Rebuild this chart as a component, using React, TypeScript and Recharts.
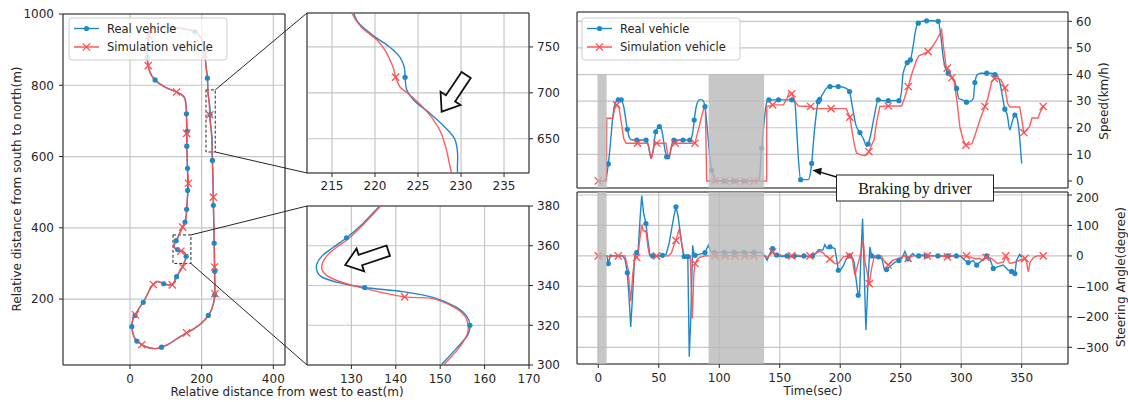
import React from "react";
import { CartesianGrid, Line, LineChart, ReferenceArea, XAxis, YAxis } from "recharts";

const BLUE = "#1f88c8";
const RED = "#ff4d4d";
const GRID = "#c6c6c6";
const INK = "#262626";
const FONT = '"DejaVu Sans", sans-serif';

// trajectory [east m, north m, marker]
const realTrack: number[][] = [
  [52, 935, 0], [55, 952, 0], [70, 960, 0], [100, 962, 0], [140, 960, 0], [181, 950, 1],
  [197, 935, 0], [205, 910, 0], [209, 885, 0], [212, 855, 0], [216, 820, 1], [217.5, 787, 0],
  [218.2, 775, 0], [220, 761, 0], [221.7, 750, 0], [222.9, 739, 0], [223.4, 728, 0], [223.5, 717, 1],
  [223.7, 703, 0], [224.5, 692, 0], [226.4, 677.5, 0], [228.3, 661, 0], [229.3, 649, 0], [229.6, 634, 0],
  [229.6, 613, 0], [230, 589, 1], [231.5, 540, 0], [232.6, 463, 1], [234, 410, 0], [235, 357, 1],
  [236, 300, 0], [236.3, 278, 1], [237, 240, 0], [236.5, 212, 1], [234, 192, 0], [228, 172, 0],
  [218.6, 154, 1], [200, 133, 0], [180, 118, 0], [158, 105, 0], [130, 88, 0], [105, 72, 0],
  [88, 65, 1], [70, 61, 0], [50, 64, 0], [33, 72, 0], [19, 82, 1], [10, 98, 0], [5, 123, 1],
  [8, 142, 0], [14, 154, 1], [20, 165, 0], [28, 178, 0], [37, 191, 1], [48, 212, 0], [58, 232, 0],
  [66, 243, 0], [76, 249, 0], [86, 247, 0], [94, 243, 1], [106, 240, 0], [117, 241, 0], [124, 250, 0],
  [130, 263, 1], [140, 279, 0], [146, 290, 0], [150.2, 300, 0], [153.5, 308, 0], [156.2, 315, 0],
  [156.7, 320, 1], [156, 324.5, 0], [153.7, 329, 0], [148.4, 334, 0], [142, 336.8, 0], [133, 339, 1],
  [127.4, 341.3, 0], [123.2, 344.5, 0], [122.1, 349.3, 0], [123.2, 354.4, 0], [125.8, 359, 0],
  [128.9, 364, 1], [132.5, 371, 0], [136.4, 380, 0], [142, 392, 0], [147.5, 404, 0], [153.5, 416, 1],
  [157, 435, 0], [158, 452, 1], [160, 480, 0], [161, 505, 1], [160.5, 567, 1], [158.5, 629, 1],
  [159.5, 671, 1], [157.5, 720, 1], [156.5, 740, 0], [153.5, 762, 0], [145, 773, 0], [130, 781, 0],
  [102, 793, 0], [80, 806, 0], [70, 815, 1], [60, 828, 0], [53, 845, 0], [50, 860, 0], [48, 879, 1],
  [49, 910, 0], [52, 935, 0],
];

const simTrack: number[][] = [
  [52, 940, 1], [56, 954, 0], [70, 960, 0], [100, 962, 0], [140, 960, 0], [181, 950, 0],
  [197, 935, 0], [205, 910, 0], [209, 885, 1], [212, 855, 0], [215.8, 820, 0], [217.3, 787, 0],
  [218.4, 771.7, 0], [220.3, 757, 0], [221.3, 744.4, 0], [222.1, 728, 0], [222.4, 717.2, 1],
  [222.9, 706.4, 0], [223.9, 699, 0], [225.5, 685, 0], [226.8, 670.6, 0], [227.7, 656, 0],
  [228.3, 638, 0], [228.9, 613, 0], [229.8, 589, 0], [231.5, 540, 0], [232.6, 486, 1], [233.5, 440, 0],
  [235, 357, 0], [235.8, 290, 1], [236.5, 250, 0], [237, 215, 1], [234, 192, 0], [228, 172, 0],
  [218.6, 154, 0], [200, 133, 0], [180, 118, 0], [158, 105, 1], [130, 88, 0], [105, 72, 0],
  [88, 65, 0], [70, 61, 0], [50, 64, 0], [33, 72, 1], [19, 82, 0], [10, 98, 0], [5, 123, 0],
  [8, 142, 0], [15, 156, 1], [20, 165, 0], [28, 178, 0], [37, 191, 0], [48, 212, 0], [58, 232, 0],
  [65, 241, 1], [76, 249, 0], [86, 247, 0], [94, 243, 0], [106, 240, 0], [118, 240, 1], [124, 250, 0],
  [130, 263, 0], [140, 279, 0], [147, 290, 1], [150.8, 300, 0], [154, 308, 0], [156, 315, 0],
  [156.3, 320, 0], [155.6, 324.5, 0], [153.2, 329, 0], [148, 333.5, 0], [142, 334.3, 1],
  [133, 338.5, 0], [128, 341.5, 0], [124.5, 345, 0], [123.3, 349, 0], [124.3, 354.4, 0],
  [126.5, 359, 0], [129.3, 363.5, 0], [132.8, 371, 0], [136.6, 380, 0], [142, 392, 0], [147, 402, 1],
  [153.5, 416, 0], [157, 435, 0], [158, 452, 0], [160, 480, 0], [163, 525, 1], [160.5, 567, 0],
  [158.5, 629, 0], [158, 665, 1], [157.5, 720, 0], [156.5, 740, 0], [153.5, 762, 0], [145, 773, 0],
  [130, 781, 1], [102, 793, 0], [80, 806, 0], [70, 815, 0], [60, 828, 0], [53, 845, 0], [51, 855, 1],
  [48, 879, 0], [49, 910, 0], [52, 940, 0],
];

// speed [sec, km/h, marker]
const realSpeed: number[][] = [
  [0, 0, 0], [3, 0, 0], [6, 0.5, 0], [8.3, 6.4, 1], [10, 14, 0], [12, 24, 0], [14, 29.2, 0],
  [16.5, 30.5, 1], [19, 30.5, 1], [21, 28, 0], [24, 19.4, 1], [26, 16, 0], [28, 15.4, 0],
  [31.8, 15.4, 1], [36, 15.4, 0], [39.5, 15.4, 1], [41.5, 13, 0], [43.6, 8.5, 0], [45.5, 12, 0],
  [47.5, 18.5, 1], [50.5, 20.4, 1], [52.5, 19, 0], [55, 12, 0], [56.5, 9.1, 1], [58.4, 8.3, 0],
  [60.5, 13, 0], [62.5, 15.4, 1], [66, 15.4, 0], [70, 15.4, 1], [75.7, 15.4, 1], [78, 18, 0],
  [79.3, 22.9, 1], [81, 28, 0], [83.5, 30.5, 0], [86, 30.5, 0], [88.2, 28, 1], [90, 20, 0],
  [92, 10, 0], [93.7, 4.1, 1], [96, 1.5, 0], [98, 0, 0], [104, 0, 1], [112, 0, 1], [120.5, 0, 1],
  [130, 0, 0], [133, 0.5, 0], [135, 12.3, 1], [137.5, 24, 0], [139, 29.2, 0], [141, 30.5, 1],
  [146, 30.5, 0], [149, 30.5, 1], [155, 30.5, 0], [160, 30.5, 1], [162.5, 29.5, 0], [164, 19.4, 0],
  [165.5, 8, 0], [167.3, 0.5, 1], [170, 0.5, 0], [173.6, 0.5, 0], [176.4, 6.6, 1], [178.5, 18, 0],
  [181.8, 29.8, 1], [183, 30.7, 1], [186, 33, 0], [188, 34.5, 0], [191.5, 35.5, 1], [195, 35.5, 0],
  [198.4, 35.5, 1], [202, 35.3, 0], [205.3, 34.7, 0], [207.7, 33.6, 1], [210, 28, 0], [213, 21, 0],
  [216.3, 18.2, 1], [219, 16, 0], [222, 13, 0], [223.1, 13.9, 1], [225, 17, 0], [228, 24, 0],
  [231.4, 30.5, 1], [235, 30.2, 0], [239.7, 30.2, 1], [244, 30.2, 0], [248.5, 30.2, 1], [250.5, 33, 0],
  [252, 40.5, 0], [255.4, 44.5, 1], [258, 45.5, 1], [260, 50, 0], [262.5, 57, 0], [264.5, 59.3, 1],
  [267, 60, 0], [271.4, 60.2, 1], [276, 60.2, 0], [281, 60, 1], [283, 55, 0], [285, 47, 0],
  [286.5, 43, 0], [289.3, 40.5, 1], [292.5, 39, 0], [294.5, 37.5, 0], [296.2, 34.8, 1], [298, 31, 0],
  [301, 30.5, 0], [304.4, 29.6, 1], [308, 30, 0], [310, 31, 0], [311.3, 37, 1], [313.5, 40, 0],
  [316, 40.5, 0], [321.1, 40.5, 1], [325, 40.5, 0], [327.9, 40, 1], [330, 39.5, 0], [332, 37, 0],
  [334, 32, 0], [336.1, 27, 1], [338, 25, 0], [340.2, 19.2, 0], [342, 22, 0], [344.4, 24.8, 1],
  [346, 24, 0], [347.5, 20, 0], [350, 6.6, 0],
];

const simSpeed: number[][] = [
  [0, 0, 1], [6.8, 0, 0], [7, 23.6, 0], [11.8, 23.6, 0], [13.5, 27, 0], [15.2, 28.6, 1], [17, 28, 0],
  [19, 22, 0], [21, 16, 0], [23, 14.2, 0], [32.5, 14.2, 1], [41, 14.2, 0], [42.5, 11, 0],
  [43.8, 8.3, 0], [45.3, 11, 0], [46.5, 14.2, 0], [48.3, 14.2, 1], [56, 14.2, 0], [57, 11, 0],
  [58.4, 8.3, 0], [60, 12, 0], [61, 14.2, 0], [63.6, 14.2, 1], [79.9, 14.2, 1], [82, 18, 0],
  [84.8, 23, 0], [87, 27, 0], [88.5, 28, 0], [89.6, 0, 0], [96.5, 0, 1], [104.8, 0, 1], [113, 0, 1],
  [121.3, 0, 1], [128.7, 0, 1], [139.2, 0, 0], [139.3, 28, 0], [144.1, 28.6, 1], [153, 28.6, 0],
  [156, 31, 0], [158, 33.5, 0], [160, 32.8, 1], [163, 29.5, 0], [165.5, 28.2, 0], [175.5, 28, 1],
  [178, 27.2, 0], [192.4, 27.2, 1], [205, 27.2, 0], [206.5, 25.5, 0], [208, 24, 1], [210, 18, 0],
  [212, 13, 0], [213.5, 10.5, 0], [217, 9.8, 0], [220.5, 9.5, 0], [222, 10, 0], [223.7, 11, 1],
  [226, 13.5, 0], [228, 15.5, 0], [230, 22, 0], [232.8, 28, 0], [239.7, 28.2, 1], [250.7, 28.2, 0],
  [253, 31, 0], [256.2, 35.5, 1], [259, 40, 0], [263.1, 45.5, 0], [265, 47, 0], [272.7, 48.6, 1],
  [277, 51, 0], [281, 54, 0], [283.8, 56.8, 0], [285.5, 50, 0], [287.5, 43, 0], [288.5, 42.4, 1],
  [290.5, 39.5, 0], [292.3, 38.8, 1], [294.3, 37, 0], [296.5, 30, 0], [299, 20, 0], [301.7, 15.4, 0],
  [303.9, 13.5, 1], [309, 14, 0], [312, 18, 0], [315.5, 23, 0], [319.6, 28, 1], [322, 31, 0],
  [325.2, 37.3, 0], [327.5, 38.5, 1], [330.5, 38.5, 0], [333, 38, 0], [336.1, 35, 1], [338.5, 29, 0],
  [340.2, 27.8, 0], [348.4, 27.8, 0], [350.5, 22, 0], [351.8, 18.2, 1], [354, 19, 0], [356.7, 20.6, 0],
  [358.5, 23.7, 0], [363.5, 23.7, 0], [365.5, 26, 0], [367.8, 28, 1],
];

// steering [sec, degree, marker]
const realSteer: number[][] = [
  [0, 0, 0], [5, 2, 0], [7, 0, 0], [8.3, -25, 1], [10, 3, 0], [12, 0, 0], [20, 0, 0], [22, -10, 0],
  [24, -55, 1], [25.5, -140, 0], [26.8, -233, 0], [28.5, -120, 0], [30, -5, 0], [31.7, 11, 1],
  [33, 20, 0], [34.5, 120, 0], [35.9, 197, 0], [37.5, 140, 0], [39.4, 106, 1], [41, 50, 0],
  [42.7, 3, 0], [45, 0, 1], [50, 0, 0], [53, 2, 1], [56, 5, 0], [58.5, 40, 0], [60.7, 90, 0],
  [62.5, 130, 0], [64.2, 161, 1], [66, 130, 0], [68, 68, 0], [70, 10, 0], [71, -2, 1], [74, -2, 1],
  [75.2, -331, 0], [76.5, -200, 0], [78, 35, 0], [79, 10, 0], [80, 2, 1], [83, 5, 0], [86, 8, 0],
  [88.2, 11, 1], [91, 35, 0], [93, 15, 0], [96, 12, 1], [104, 12, 1], [112, 12, 1], [120.5, 12, 1],
  [128.7, 12, 1], [135, 12, 0], [137.5, 0, 0], [139.6, -14, 0], [141.5, 5, 0], [144.1, 24, 1],
  [146, 0, 0], [147.6, 3, 1], [152, -3, 0], [156, 0, 1], [160, -3, 0], [162, 0, 1], [167, -2, 0],
  [170, 0, 1], [175, -3, 0], [177, 0, 1], [180, 8, 0], [182, 20, 0], [185.6, 19, 0], [187.3, 37, 0],
  [189, 25, 0], [191.5, 30, 1], [195.6, 24, 0], [197, -10, 0], [198.4, -47, 1], [200.5, -45, 0],
  [202.5, -33, 0], [205, -10, 0], [207.7, 0, 1], [210, -5, 0], [211.6, -22, 0], [213.5, -90, 0],
  [214.9, -129, 1], [216, -120, 0], [217.3, 20, 0], [218.5, 122, 0], [219.8, -50, 0], [221.2, -244, 0],
  [222.8, -100, 0], [224.5, 30, 0], [226, 0, 1], [229, -5, 0], [231.5, -3, 1], [234.5, -10, 0],
  [236.5, -45, 0], [238.3, -45, 1], [242.4, -30, 0], [245.5, -20, 0], [248.5, -15, 1], [251, -8, 0],
  [253.5, 15, 0], [256, -10, 1], [258, 0, 0], [260, 8, 0], [262, 0, 0], [264.8, 0, 1], [268, 3, 0],
  [271, 0, 1], [276, 0, 0], [280.8, 0, 1], [285, 0, 0], [289, 0, 1], [293, 0, 0], [296, 0, 1],
  [300, -2, 0], [301.7, -10, 0], [305.8, -22, 1], [310, -15, 0], [312.8, -30, 1], [315.5, -20, 0],
  [318.3, -10, 0], [321, 0, 1], [323.8, -10, 0], [326.5, -41, 1], [330.6, -35, 0], [334.7, -30, 0],
  [338.9, -47, 0], [341.6, -51, 1], [344.4, -58, 1], [345.7, -15, 0], [348.4, 5, 0], [350, -5, 0],
];

const simSteer: number[][] = [
  [0, 0, 1], [7, 0, 0], [10, -3, 0], [12, 0, 0], [16.5, 0, 1], [22, 0, 0], [24.5, -40, 0],
  [26.8, -149, 0], [28.5, -60, 0], [30.5, 0, 0], [31.7, -5, 1], [33, 10, 0], [34.5, 60, 0],
  [35.9, 103, 0], [37, 85, 0], [38.5, 80, 0], [39.4, 83, 0], [41, 30, 0], [42.5, 0, 0], [48.2, 0, 1],
  [58, 0, 0], [60.5, 10, 0], [62.5, 35, 0], [64.2, 51, 1], [67, 90, 0], [69, 40, 0], [71, 0, 0],
  [76, 0, 0], [77.7, -205, 0], [79, -60, 0], [80, -25, 1], [82, -10, 0], [84, -5, 0], [88, 0, 0],
  [96.5, 0, 1], [104.8, 0, 1], [113, 0, 1], [121.3, 0, 1], [128.7, 0, 1], [138, 0, 0], [140, -5, 0],
  [142, 5, 0], [144.1, 13, 1], [147, -2, 0], [150, 3, 0], [155, 0, 0], [160, 0, 1], [165, 2, 0],
  [170, -2, 0], [175, 0, 1], [180, 10, 0], [183, 15, 0], [186, 10, 0], [188, 0, 0], [191.5, -10, 1],
  [195.6, -25, 0], [198.4, -25, 0], [202.5, -3, 0], [207.7, 0, 1], [210, -10, 0], [212.1, -63, 0],
  [214.5, -30, 0], [217, 10, 0], [219, 51, 0], [220.5, -20, 0], [222, -50, 0], [224, -91, 1],
  [226, -40, 0], [228.3, 0, 0], [234, 0, 0], [237, -20, 0], [239.7, -30, 1], [243, -15, 0],
  [247, -10, 0], [250, -5, 0], [253, 0, 0], [256.2, -8, 1], [260, 0, 0], [264, 0, 0], [272, 0, 1],
  [280, 0, 0], [288.6, -3, 1], [296, 0, 0], [304.5, 0, 1], [312, -10, 0], [315, -8, 0], [318, -15, 0],
  [320.5, -5, 1], [325, -8, 0], [330, -25, 0], [335, -20, 0], [336.9, 0, 1], [340, -25, 0],
  [345, -20, 0], [348, -15, 0], [352.7, -8, 1], [354, -20, 0], [355.4, -52, 0], [357, -20, 0],
  [360, -5, 0], [363, 0, 0], [367.8, 0, 1],
];

const trackXTicks = [0, 200, 400];
const trackYTicks = [200, 400, 600, 800, 1000];
const zoomAXTicks = [215, 220, 225, 230, 235];
const zoomAYTicks = [650, 700, 750];
const zoomBXTicks = [120, 130, 140, 150, 160, 170];
const zoomBYTicks = [300, 320, 340, 360, 380];
const timeTicks = [0, 50, 100, 150, 200, 250, 300, 350];
const speedTicks = [0, 10, 20, 30, 40, 50, 60];
const steerTicks = [-300, -200, -100, 0, 100, 200];
const grayStops = [[-0.7, 6.9], [91.2, 137.1]];
const grayTopSpeed = 40;

// plot boxes (page px) and domains
const P1 = { left: 63, top: 14, right: 285, bottom: 365 };
const P2 = { left: 307, top: 13, right: 529, bottom: 173 };
const P3 = { left: 307, top: 206, right: 529, bottom: 365 };
const P4 = { left: 577, top: 12, right: 1068, bottom: 188 };
const P5 = { left: 577, top: 192, right: 1068, bottom: 364 };
const D1x = [-187, 432.6], D1y = [15, 1000];
const D2x = [212.1, 237.9], D2y = [612.7, 787];
const D3x = [120, 170], D3y = [300, 380];
const DTx = [-17.6, 388.3], D4y = [-2.63, 63.5], D5y = [-354.8, 209.8];

const toXY = (a: number[][]) => a.map(([x, y, m]) => ({ x, y, m }));

// uniform Catmull-Rom, so zoomed track panels stay smooth
const catmull = (context: any) => {
  let pts: number[][] = [];
  return {
    areaStart() {},
    areaEnd() {},
    lineStart() { pts = []; },
    lineEnd() {
      if (!pts.length) return;
      context.moveTo(pts[0][0], pts[0][1]);
      for (let i = 0; i < pts.length - 1; i++) {
        const p0 = pts[i - 1] || pts[i], p1 = pts[i], p2 = pts[i + 1], p3 = pts[i + 2] || p2;
        context.bezierCurveTo(
          p1[0] + (p2[0] - p0[0]) / 6, p1[1] + (p2[1] - p0[1]) / 6,
          p2[0] - (p3[0] - p1[0]) / 6, p2[1] - (p3[1] - p1[1]) / 6,
          p2[0], p2[1]
        );
      }
    },
    point(x: number, y: number) { pts.push([+x, +y]); },
  };
};

const blueDot = (p: any) =>
  p.payload && p.payload.m ? (
    <circle key={`b${p.index}`} cx={p.cx} cy={p.cy} r={2.6} fill={BLUE} />
  ) : (
    <g key={`b${p.index}`} />
  );

const redCross = (p: any) =>
  p.payload && p.payload.m ? (
    <path
      key={`r${p.index}`}
      d={`M${p.cx - 3.6},${p.cy - 3.6}L${p.cx + 3.6},${p.cy + 3.6}M${p.cx - 3.6},${p.cy + 3.6}L${p.cx + 3.6},${p.cy - 3.6}`}
      stroke={RED}
      strokeWidth={1.3}
      fill="none"
    />
  ) : (
    <g key={`r${p.index}`} />
  );

const fmt = (v: number) => (v < 0 ? `\u2212${-v}` : `${v}`);
const tickStyle = { fontSize: 12, fill: INK, fontFamily: FONT };

const mapper = (box: any, dx: number[], dy: number[]) => (x: number, y: number) => [
  box.left + ((x - dx[0]) / (dx[1] - dx[0])) * (box.right - box.left),
  box.bottom - ((y - dy[0]) / (dy[1] - dy[0])) * (box.bottom - box.top),
];

function blockArrow(tail: number[], tip: number[]) {
  const dx = tip[0] - tail[0], dy = tip[1] - tail[1];
  const L = Math.hypot(dx, dy);
  const ux = dx / L, uy = dy / L, nx = -uy, ny = ux;
  const head = 16, hw = 12, sw = 5.5;
  const nk = [tip[0] - ux * head, tip[1] - uy * head];
  const pts = [
    [tail[0] + nx * sw, tail[1] + ny * sw],
    [nk[0] + nx * sw, nk[1] + ny * sw],
    [nk[0] + nx * hw, nk[1] + ny * hw],
    tip,
    [nk[0] - nx * hw, nk[1] - ny * hw],
    [nk[0] - nx * sw, nk[1] - ny * sw],
    [tail[0] - nx * sw, tail[1] - ny * sw],
  ];
  return pts.map((p) => p.join(",")).join(" ");
}

function LegendBox({ x, y }: { x: number; y: number }) {
  return (
    <g fontFamily={FONT} fontSize={11.5} fill={INK}>
      <rect x={x} y={y} width={158} height={42} rx={3} fill="#fff" fillOpacity={0.8} stroke="#cccccc" />
      <line x1={x + 5} x2={x + 30} y1={y + 10.5} y2={y + 10.5} stroke={BLUE} strokeWidth={1.4} />
      <circle cx={x + 17.5} cy={y + 10.5} r={2.6} fill={BLUE} />
      <text x={x + 38} y={y + 14.5}>Real vehicle</text>
      <line x1={x + 5} x2={x + 30} y1={y + 29} y2={y + 29} stroke={RED} strokeWidth={1.4} />
      <path d={`M${x + 13.9},${y + 25.4}l7.2,7.2M${x + 13.9},${y + 32.6}l7.2,-7.2`} stroke={RED} strokeWidth={1.3} />
      <text x={x + 38} y={y + 33}>Simulation vehicle</text>
    </g>
  );
}

function TrackLines() {
  return [
    <Line key="r" data={toXY(realTrack)} dataKey="y" type={catmull as any} stroke={BLUE} strokeWidth={1.4} dot={blueDot} activeDot={false} isAnimationActive={false} />,
    <Line key="s" data={toXY(simTrack)} dataKey="y" type={catmull as any} stroke={RED} strokeWidth={1.4} strokeOpacity={0.9} dot={redCross} activeDot={false} isAnimationActive={false} />,
  ];
}

export default function App() {
  const m1 = mapper(P1, D1x, D1y);
  const m2 = mapper(P2, D2x, D2y);
  const m3 = mapper(P3, D3x, D3y);
  const m4 = mapper(P4, DTx, D4y);
  const m5 = mapper(P5, DTx, D5y);
  const a1 = m1(D2x[1], D2y[1]), b1 = m1(D2x[1], D2y[0]);
  const a2 = m1(D3x[1], D3y[1]), b2 = m1(D3x[1], D3y[0]);
  const brakeTip = m4(177, 4);
  const trackLines = TrackLines();

  return (
    <div style={{ position: "absolute", left: 0, top: 0, width: 1128, height: 402, background: "#fff", fontFamily: FONT }}>
      <div style={{ position: "absolute", left: 0, top: 0 }}>
        <LineChart width={300} height={402} margin={{ top: 14, right: 15, bottom: 0, left: 0 }}>
          <CartesianGrid stroke={GRID} strokeWidth={1.2} />
          <XAxis type="number" dataKey="x" domain={D1x} ticks={trackXTicks} allowDataOverflow height={37} axisLine={false} tickSize={4} tickMargin={5} tickLine={{ stroke: INK }} tick={tickStyle} />
          <YAxis type="number" domain={D1y} ticks={trackYTicks} allowDataOverflow width={63} axisLine={false} tickSize={4} tickMargin={5} tickLine={{ stroke: INK }} tick={tickStyle} />
          {trackLines}
          <ReferenceArea x1={D2x[0]} x2={D2x[1]} y1={D2y[0]} y2={D2y[1]} fill="none" stroke={INK} strokeDasharray="3 2" />
          <ReferenceArea x1={D3x[0]} x2={D3x[1]} y1={D3y[0]} y2={D3y[1]} fill="none" stroke={INK} strokeDasharray="3 2" />
          <ReferenceArea x1={D1x[0]} x2={D1x[1]} y1={D1y[0]} y2={D1y[1]} fill="none" stroke={INK} />
        </LineChart>
      </div>

      <div style={{ position: "absolute", left: 300, top: 0 }}>
        <LineChart width={260} height={195} margin={{ top: 13, right: 0, bottom: 0, left: 7 }}>
          <CartesianGrid stroke={GRID} strokeWidth={1.2} />
          <XAxis type="number" dataKey="x" domain={D2x} ticks={zoomAXTicks} allowDataOverflow height={22} axisLine={false} tickSize={4} tickMargin={4} tickLine={{ stroke: INK }} tick={tickStyle} />
          <YAxis type="number" orientation="right" domain={D2y} ticks={zoomAYTicks} allowDataOverflow width={31} axisLine={false} tickSize={4} tickMargin={4} tickLine={{ stroke: INK }} tick={tickStyle} />
          {trackLines}
          <ReferenceArea x1={D2x[0]} x2={D2x[1]} y1={D2y[0]} y2={D2y[1]} fill="none" stroke={INK} />
        </LineChart>
      </div>

      <div style={{ position: "absolute", left: 300, top: 195 }}>
        <LineChart width={260} height={207} margin={{ top: 11, right: 0, bottom: 0, left: 7 }}>
          <CartesianGrid stroke={GRID} strokeWidth={1.2} />
          <XAxis type="number" dataKey="x" domain={D3x} ticks={zoomBXTicks} allowDataOverflow height={37} axisLine={false} tickSize={4} tickMargin={5} tickLine={{ stroke: INK }} tick={tickStyle} />
          <YAxis type="number" orientation="right" domain={D3y} ticks={zoomBYTicks} allowDataOverflow width={31} axisLine={false} tickSize={4} tickMargin={4} tickLine={{ stroke: INK }} tick={tickStyle} />
          {trackLines}
          <ReferenceArea x1={D3x[0]} x2={D3x[1]} y1={D3y[0]} y2={D3y[1]} fill="none" stroke={INK} />
        </LineChart>
      </div>

      <div style={{ position: "absolute", left: 570, top: 0 }}>
        <LineChart width={558} height={190} margin={{ top: 12, right: 0, bottom: 2, left: 7 }}>
          <CartesianGrid stroke={GRID} strokeWidth={1.2} />
          <XAxis type="number" dataKey="x" domain={DTx} ticks={timeTicks} allowDataOverflow height={0} axisLine={false} tickLine={false} tick={false} />
          <YAxis type="number" orientation="right" domain={D4y} ticks={speedTicks} allowDataOverflow width={60} axisLine={false} tickSize={4} tickMargin={4} tickLine={{ stroke: INK }} tick={tickStyle} />
          <Line data={toXY(realSpeed)} dataKey="y" type="monotone" stroke={BLUE} strokeWidth={1.4} dot={blueDot} activeDot={false} isAnimationActive={false} />
          <Line data={toXY(simSpeed)} dataKey="y" type="linear" stroke={RED} strokeWidth={1.4} strokeOpacity={0.9} dot={redCross} activeDot={false} isAnimationActive={false} />
          <ReferenceArea x1={DTx[0]} x2={DTx[1]} y1={D4y[0]} y2={D4y[1]} fill="none" stroke={INK} />
        </LineChart>
      </div>

      <div style={{ position: "absolute", left: 570, top: 190 }}>
        <LineChart width={558} height={212} margin={{ top: 2, right: 0, bottom: 0, left: 7 }}>
          <CartesianGrid stroke={GRID} strokeWidth={1.2} />
          <XAxis type="number" dataKey="x" domain={DTx} ticks={timeTicks} allowDataOverflow height={38} axisLine={false} tickSize={4} tickMargin={5} tickLine={{ stroke: INK }} tick={tickStyle} />
          <YAxis type="number" orientation="right" domain={D5y} ticks={steerTicks} allowDataOverflow width={60} axisLine={false} tickSize={4} tickMargin={4} tickLine={{ stroke: INK }} tick={tickStyle} tickFormatter={fmt} />
          <Line data={toXY(realSteer)} dataKey="y" type="linear" stroke={BLUE} strokeWidth={1.4} dot={blueDot} activeDot={false} isAnimationActive={false} />
          <Line data={toXY(simSteer)} dataKey="y" type="linear" stroke={RED} strokeWidth={1.4} strokeOpacity={0.9} dot={redCross} activeDot={false} isAnimationActive={false} />
          <ReferenceArea x1={DTx[0]} x2={DTx[1]} y1={D5y[0]} y2={D5y[1]} fill="none" stroke={INK} />
        </LineChart>
      </div>

      <svg width={1128} height={402} style={{ position: "absolute", left: 0, top: 0, pointerEvents: "none" }}>
        {/* shaded manual-driving spans, laid over both time panels */}
        {grayStops.map(([a, b]) => {
          const s0 = m4(a, grayTopSpeed), s1 = m4(b, D4y[0]);
          const t0 = m5(a, D5y[1]), t1 = m5(b, D5y[0]);
          return (
            <g key={`g${a}`} fill="#b9b9b9" fillOpacity={0.8}>
              <rect x={s0[0]} y={s0[1]} width={s1[0] - s0[0]} height={s1[1] - s0[1]} />
              <rect x={t0[0]} y={t0[1]} width={t1[0] - t0[0]} height={t1[1] - t0[1]} />
            </g>
          );
        })}

        <line x1={a1[0]} y1={a1[1]} x2={P2.left} y2={P2.top} stroke={INK} strokeWidth={1} />
        <line x1={b1[0]} y1={b1[1]} x2={P2.left} y2={P2.bottom} stroke={INK} strokeWidth={1} />
        <line x1={a2[0]} y1={a2[1]} x2={P3.left} y2={P3.top} stroke={INK} strokeWidth={1} />
        <line x1={b2[0]} y1={b2[1]} x2={P3.left} y2={P3.bottom} stroke={INK} strokeWidth={1} />

        <polygon points={blockArrow(m2(230.6, 719.5), m2(227.75, 679.5))} fill="#fff" stroke="#111" strokeWidth={1.8} strokeLinejoin="miter" />
        <polygon points={blockArrow(m3(138.3, 357.5), m3(128.6, 350.3))} fill="#fff" stroke="#111" strokeWidth={1.8} strokeLinejoin="miter" />

        <LegendBox x={69} y={18} />
        <LegendBox x={582} y={18} />

        <line x1={836.5} y1={177} x2={brakeTip[0] + 6} y2={brakeTip[1] + 1.2} stroke="#111" strokeWidth={1.4} />
        <polygon points={`${brakeTip[0]},${brakeTip[1]} ${brakeTip[0] + 9.5},${brakeTip[1] - 2.6} ${brakeTip[0] + 8.3},${brakeTip[1] + 5}`} fill="#111" />
        <rect x={836.5} y={175} width={157} height={26} fill="#fff" stroke="#222" strokeWidth={1} />
        <text x={915} y={194} textAnchor="middle" fontFamily='"Liberation Serif", "DejaVu Serif", serif' fontSize={16} fill="#111">Braking by driver</text>

        <g fontFamily={FONT} fontSize={12} fill={INK}>
          <text x={287} y={396} textAnchor="middle">Relative distance from west to east(m)</text>
          <text transform="translate(21,189) rotate(-90)" textAnchor="middle">Relative distance from south to north(m)</text>
          <text x={813} y={395} textAnchor="middle">Time(sec)</text>
          <text transform="translate(1108,101) rotate(-90)" textAnchor="middle">Speed(km/h)</text>
          <text transform="translate(1125,277) rotate(-90)" textAnchor="middle">Steering Angle(degree)</text>
        </g>
      </svg>
    </div>
  );
}
